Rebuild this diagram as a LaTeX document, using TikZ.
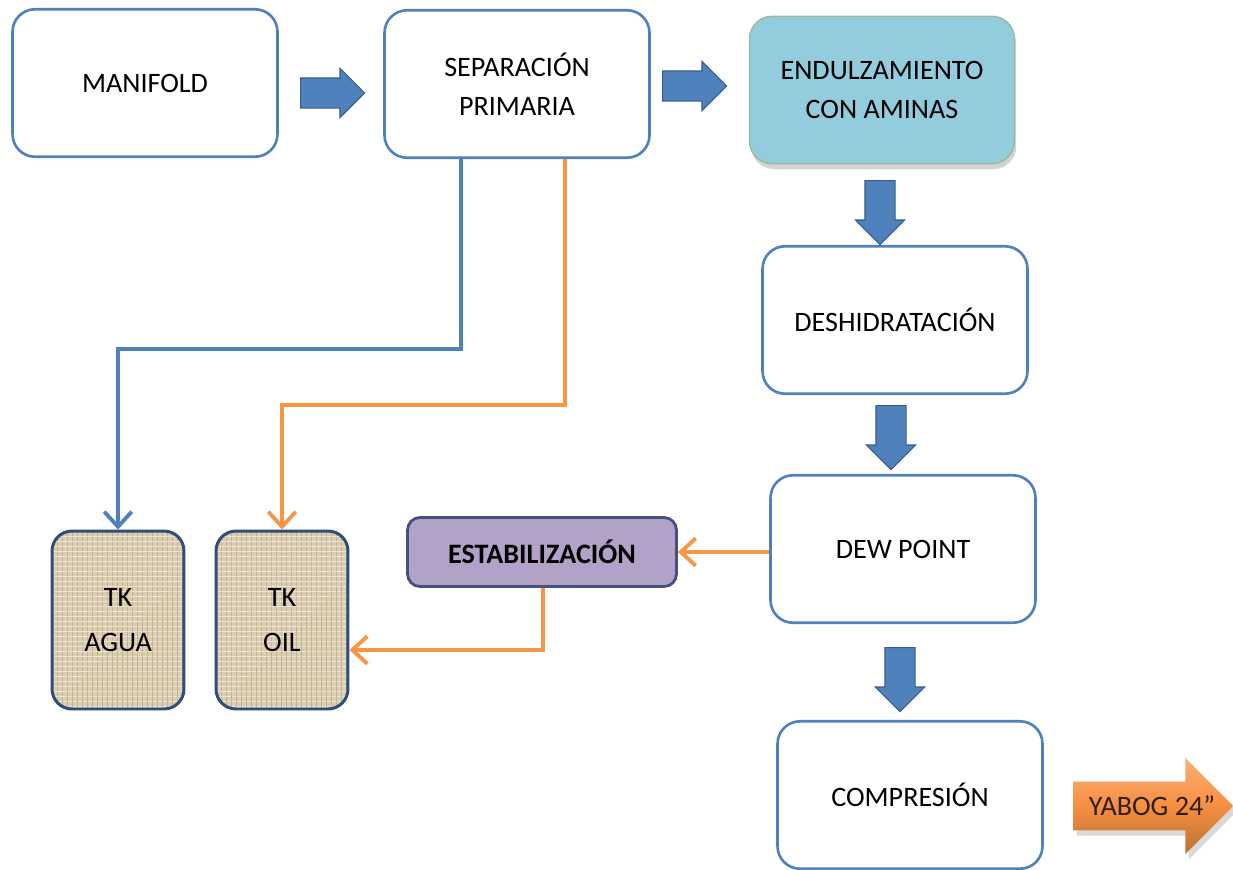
\documentclass[tikz,border=0pt]{standalone}
\usepackage{fontspec}
\setmainfont{Carlito}
\usetikzlibrary{shapes.arrows}
\usetikzlibrary{shadows}
\usetikzlibrary{arrows.meta}
\usetikzlibrary{positioning}

\definecolor{azulborde}{HTML}{4F81BD}
\definecolor{azuloscuro}{HTML}{385D8A}
\definecolor{tanqueborde}{HTML}{2F4C80}
\definecolor{celeste}{HTML}{93CDDD}
\definecolor{celesteborde}{HTML}{9DB89A}
\definecolor{lila}{HTML}{B3A2C7}
\definecolor{lilaborde}{HTML}{44507E}
\definecolor{naranja}{HTML}{F79646}
\definecolor{yute}{HTML}{DACDB2}
\definecolor{yuteosc}{HTML}{C4B391}
\definecolor{yuteclaro}{HTML}{ECE3D0}

\tikzset{
  caja/.style={draw=azulborde, line width=1.5pt, rounded corners=0.45cm,
    minimum width=5.3cm, minimum height=2.95cm, align=center,
    font=\fontsize{16}{22}\selectfont, fill=white},
  tanque/.style={draw=tanqueborde, line width=1.7pt, rounded corners=0.4cm,
    minimum width=2.64cm, minimum height=3.56cm, align=center,
    font=\fontsize{16}{26}\selectfont, fill=yute,
    path picture={
      \foreach \k in {0,5,...,180} {
        \draw[yuteosc, line width=0.4pt]
          ([xshift=\k*0.02cm]path picture bounding box.south west) -- ++(0,4cm);
        \draw[yuteclaro, line width=0.5pt]
          ([yshift=\k*0.02cm+0.05cm]path picture bounding box.south west) -- ++(3cm,0);
      }
    }},
  flecha/.style={single arrow, fill=azulborde, draw=azuloscuro, line width=0.6pt,
    inner xsep=0pt, inner ysep=0.29cm, single arrow head extend=0.19cm,
    minimum height=1.28cm, anchor=tail},
  lineaazul/.style={draw=azulborde, line width=2.2pt,
    -{Straight Barb[length=3mm,width=5.5mm]}},
  lineanaranja/.style={draw=naranja, line width=2.2pt,
    -{Straight Barb[length=3mm,width=5.5mm]}}
}

\begin{document}
\begin{tikzpicture}[x=0.02cm, y=-0.02cm]
    \useasboundingbox (0,0) rectangle (1233,869);

    % cajas del proceso
    \node[caja] (man) at (145,83) {MANIFOLD};
    \node[caja] (sep) at (517,84) {SEPARACIÓN\\PRIMARIA};
    \node[caja, fill=celeste, draw=celesteborde, line width=0.8pt,
      drop shadow={shadow xshift=1pt, shadow yshift=-3pt, opacity=0.35}]
      (endul) at (882,90) {ENDULZAMIENTO\\CON AMINAS};
    \node[caja] (desh) at (895,320) {DESHIDRATACIÓN};
    \node[caja] (dew) at (903,549) {DEW POINT};
    \node[caja] (comp) at (910,795) {COMPRESIÓN};

    % tanques
    \node[tanque] (agua) at (118,620) {TK\\AGUA};
    \node[tanque] (oil) at (282,620) {TK\\OIL};

    \node[draw=lilaborde, fill=lila, line width=1.6pt, rounded corners=0.25cm,
      minimum width=5.38cm, minimum height=1.38cm,
      font=\fontsize{16}{20}\selectfont\bfseries] (estab) at (542,552) {ESTABILIZACIÓN};

    % flechas gruesas
    \node[flecha] (f1) at (300,93) {};
    \node[flecha] (f2) at (662,86) {};
    \node[flecha, rotate=-90] (f3) at (880,180) {};
    \node[flecha, rotate=-90] (f4) at (891,405) {};
    \node[flecha, rotate=-90] (f5) at (900,647) {};

    \node[single arrow, anchor=tail, minimum height=3.2cm, inner xsep=0pt,
      inner ysep=0.48cm, single arrow head extend=0.47cm,
      top color=naranja!75!white, bottom color=naranja!75!black,
      middle color=naranja!95!red,
      drop shadow={shadow xshift=2pt, shadow yshift=-3pt, opacity=0.3}]
      (yabog) at (1073,806) {};
    \node[text=black!75!brown, font=\fontsize{16}{20}\selectfont]
      (yabogtxt) at (1152,806) {YABOG 24”};

    % lineas
    \coordinate (c1) at (461,349);
    \coordinate (c2) at (565,405);
    \coordinate (c3) at (543,650);
    \draw[lineaazul] (sep.south -| c1) -- (c1) -| (agua.north);
    \draw[lineanaranja] (sep.south -| c2) -- (c2) -| (oil.north);
    \draw[lineanaranja] (estab.east -| dew.west) -- (estab.east);
    \draw[lineanaranja] (estab.south -| c3) -- (c3) -- (c3 -| oil.east);
\end{tikzpicture}
\end{document}
